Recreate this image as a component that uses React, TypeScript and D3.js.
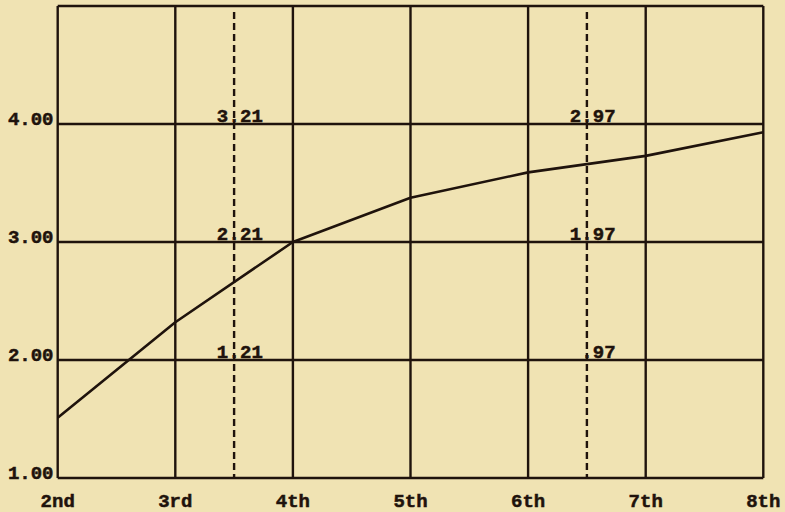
import React from 'react'
import { scaleLinear, line } from 'd3'

const grades = ['2nd', '3rd', '4th', '5th', '6th', '7th', '8th']
const values = [1.51, 2.32, 3.0, 3.375, 3.59, 3.73, 3.93]
const yTicks = [1, 2, 3, 4]
const yTickLabels = ['1.00', '2.00', '3.00', '4.00']
const markerPositions = [1.5, 4.5]
const markerLabels = [
  ['1.21', '2.21', '3.21'],
  ['.97', '1.97', '2.97'],
]

const width = 785
const height = 512
const ink = '#1f130c'
const paper = '#f0e3b3'
const font = '"Liberation Mono", "DejaVu Sans Mono", monospace'
const pitch = 11.5
const fs = 19

const App = () => {
  const x = scaleLinear().domain([0, grades.length - 1]).range([57.7, 763.3])
  const y = scaleLinear().domain([1, 5]).range([478, 6])

  const path = line<number>()
    .x((_, i) => x(i))
    .y(d => y(d))(values)

  const textProps = {
    fontFamily: font,
    fontWeight: 'bold' as const,
    fontSize: fs,
    fill: ink,
    stroke: ink,
    strokeWidth: 0.5,
  }

  return (
    <svg width={width} height={height} style={{ display: 'block', position: 'absolute', left: 0, top: 0, background: paper }}>
      <rect x={0} y={0} width={width} height={height} fill={paper} />
      {/* vertical grid */}
      {grades.map((g, i) => (
        <line key={'v' + g} x1={x(i)} x2={x(i)} y1={y(5)} y2={y(1)} stroke={ink} strokeWidth={2.4} />
      ))}
      {/* horizontal grid */}
      {[...yTicks, 5].map(t => (
        <line key={'h' + t} x1={x(0)} x2={x(grades.length - 1)} y1={y(t)} y2={y(t)} stroke={ink} strokeWidth={2.4} />
      ))}
      {/* dashed markers */}
      {markerPositions.map(m => (
        <line key={'m' + m} x1={x(m)} x2={x(m)} y1={y(5) + 6} y2={y(1)} stroke={ink} strokeWidth={2.4} strokeDasharray="7,4" />
      ))}
      {/* data line */}
      <path d={path ?? ''} fill="none" stroke={ink} strokeWidth={2.6} strokeLinejoin="round" />
      {/* marker labels */}
      {markerPositions.map((m, mi) =>
        markerLabels[mi].map((lab, li) => {
          const dotIdx = lab.indexOf('.')
          return (
            <text key={lab} x={x(m) - (dotIdx + 0.5) * pitch} y={y(li + 2) - 2}
              {...textProps} textLength={lab.length * pitch} lengthAdjust="spacing">{lab}</text>
          )
        })
      )}
      {/* y tick labels */}
      {yTicks.map((t, i) => (
        <text key={'yt' + t} x={53.5} y={y(t) + 1} textAnchor="end" {...textProps}>{yTickLabels[i]}</text>
      ))}
      {/* x tick labels */}
      {grades.map((g, i) => (
        <text key={'xt' + g} x={Math.min(x(i), 765)} y={507} textAnchor="middle" {...textProps}>{g}</text>
      ))}
    </svg>
  )
}

export default App
